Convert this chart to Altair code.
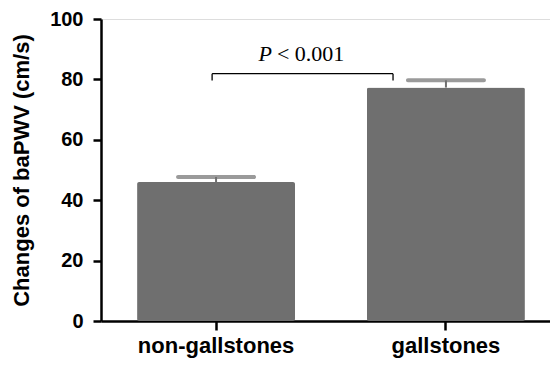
import altair as alt
import pandas as pd

# ---- data ----
groups = ["non-gallstones", "gallstones"]
means = [46.0, 77.3]
upper = [47.7, 79.7]

bracket_from = ["non-gallstones"]
bracket_to = ["gallstones"]
bracket_y = [81.9]
bracket_tip = [79.6]
p_label_y = [86.0]
y_ticks = [0, 20, 40, 60, 80, 100]

BAR = "#6f6f6f"
SANS = "Liberation Sans"
SERIF = "Liberation Serif"
YTITLE = "Changes of baPWV (cm/s)"

df = pd.DataFrame({"group": groups, "mean": means, "upper": upper})
bdf = pd.DataFrame({"from": bracket_from, "to": bracket_to, "y": bracket_y,
                    "tip": bracket_tip, "py": p_label_y})

xscale = alt.Scale(domain=groups, paddingInner=0.313, paddingOuter=0.157)
yscale = alt.Scale(domain=[0, 100], nice=False)

base = alt.Chart(df)

bars = base.mark_bar(color=BAR, cornerRadius=2).encode(
    x=alt.X("group:N", scale=xscale, title=None,
            axis=alt.Axis(labelFontSize=22, labelPadding=5, labelAngle=0, tickSize=9)),
    y=alt.Y("mean:Q", scale=yscale, title=YTITLE,
            axis=alt.Axis(values=y_ticks, labelFontSize=20, labelPadding=10,
                          titleFontSize=22, titlePadding=16, tickSize=8)),
)

stem = base.mark_rule(color=BAR, strokeWidth=2).encode(
    x=alt.X("group:N", scale=xscale, title=None),
    y=alt.Y("mean:Q", scale=yscale, title=YTITLE),
    y2="upper:Q",
)

cap = base.mark_tick(color=BAR, thickness=4, size=80, cornerRadius=2).encode(
    x=alt.X("group:N", scale=xscale, title=None),
    y=alt.Y("upper:Q", scale=yscale, title=YTITLE),
)

bchart = alt.Chart(bdf)
hline = bchart.mark_rule(color="black", strokeWidth=1.3).encode(
    x=alt.X("from:N", scale=xscale, bandPosition=0.475, title=None),
    x2=alt.X2("to:N", bandPosition=0.165),
    y=alt.Y("y:Q", scale=yscale, title=YTITLE),
)
ltick = bchart.mark_rule(color="black", strokeWidth=1.3).encode(
    x=alt.X("from:N", scale=xscale, bandPosition=0.475, title=None),
    y=alt.Y("y:Q", scale=yscale, title=YTITLE),
    y2="tip:Q",
)
rtick = bchart.mark_rule(color="black", strokeWidth=1.3).encode(
    x=alt.X("to:N", scale=xscale, bandPosition=0.165, title=None),
    y=alt.Y("y:Q", scale=yscale, title=YTITLE),
    y2="tip:Q",
)
ptext = bchart.mark_text(font=SERIF, fontStyle="italic", fontSize=22, align="right",
                         baseline="alphabetic", color="black", dx=-1).encode(
    x=alt.X("from:N", scale=xscale, bandPosition=0.86, title=None),
    y=alt.Y("py:Q", scale=yscale, title=YTITLE),
    text=alt.value("P"),
)
rest = bchart.mark_text(font=SERIF, fontSize=22, align="left",
                        baseline="alphabetic", color="black", dx=4).encode(
    x=alt.X("from:N", scale=xscale, bandPosition=0.86, title=None),
    y=alt.Y("py:Q", scale=yscale, title=YTITLE),
    text=alt.value("< 0.001"),
)

chart = alt.layer(bars, stem, cap, hline, ltick, rtick, ptext, rest).properties(
    width=460, height=302,
    autosize=alt.AutoSizeParams(type="none"),
    padding={"left": 93, "top": 11, "right": -11, "bottom": 37},
).configure_view(stroke=None).configure(background="white").configure_axis(
    grid=False, domainColor="black", domainWidth=2.5, tickColor="black", tickWidth=2.5,
    labelFont=SANS, labelFontWeight="bold", labelColor="black",
    titleFont=SANS, titleFontWeight="bold", titleColor="black",
)

chart.save("out.html", embed_options={"renderer": "svg", "actions": False})
